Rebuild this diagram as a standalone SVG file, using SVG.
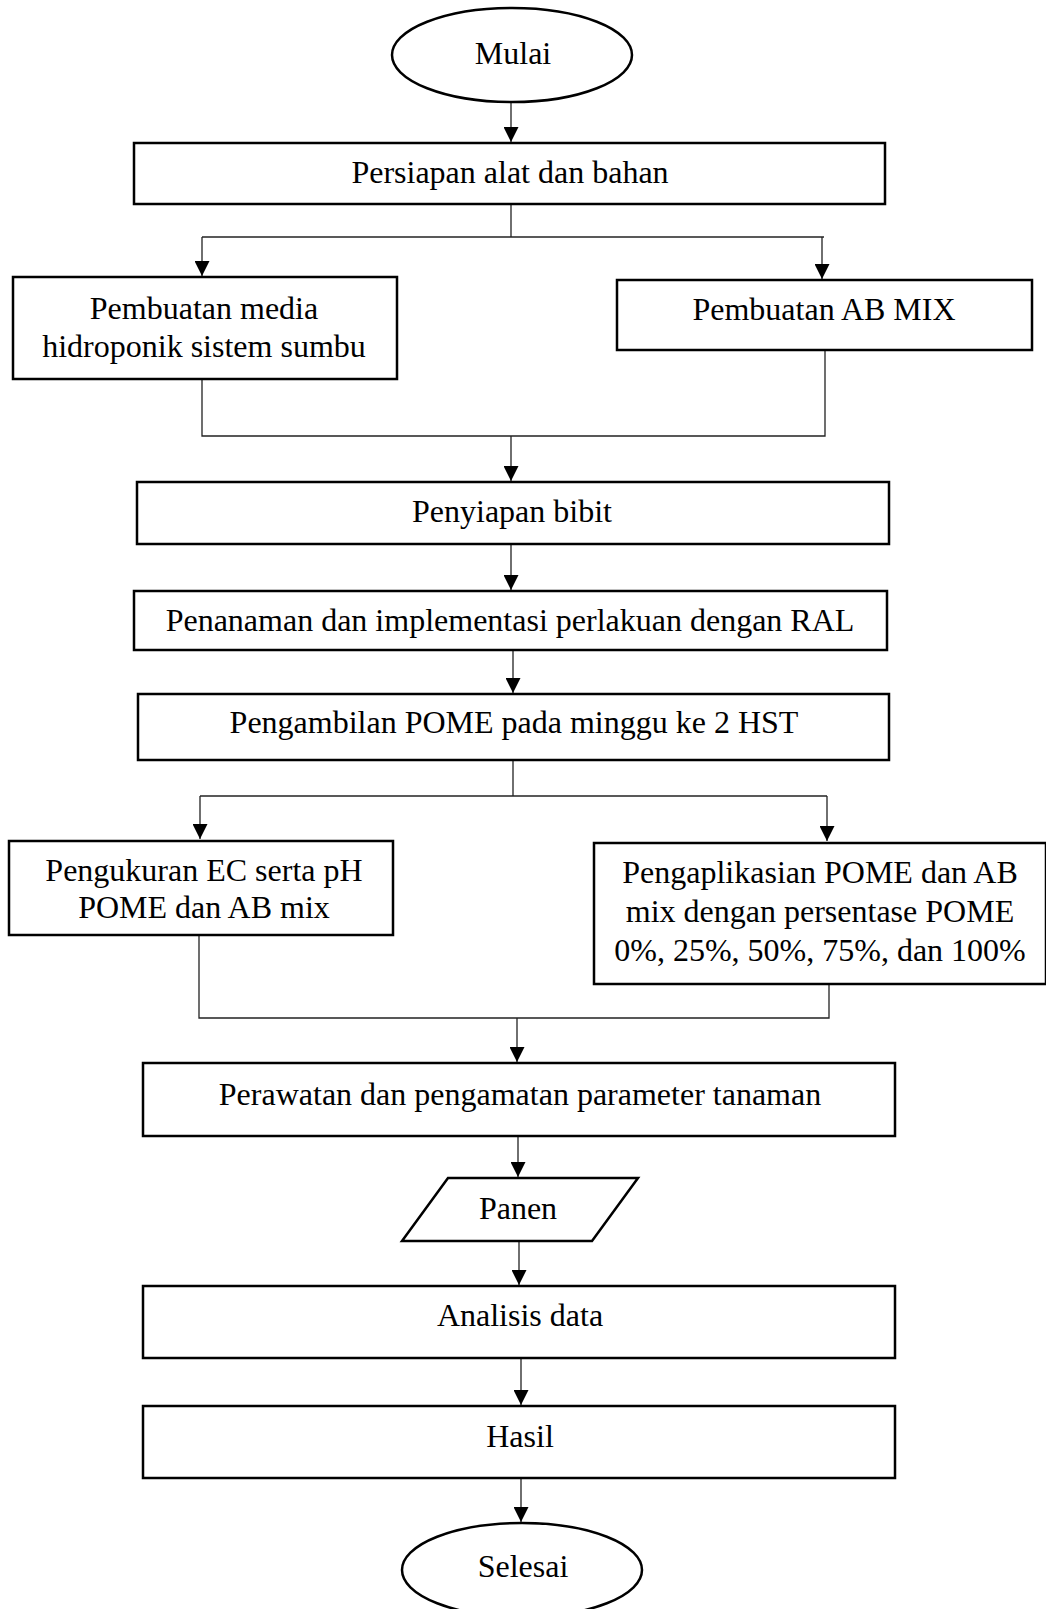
<svg xmlns="http://www.w3.org/2000/svg" width="1046" height="1609" viewBox="0 0 1046 1609">
<style>
.n{fill:#fff;stroke:#000;stroke-width:2.5}
.t{font-family:"Liberation Serif","Times New Roman",serif;font-size:32px;fill:#000;text-anchor:middle}
.c{fill:none;stroke:#222;stroke-width:1.3}
.a{marker-end:url(#ah)}
</style>
<defs>
<marker id="ah" viewBox="0 0 10 10" refX="10" refY="5" markerUnits="userSpaceOnUse" markerWidth="15" markerHeight="15" orient="auto">
<path d="M0,0 L10,5 L0,10 z" fill="#000"/>
</marker>
</defs>
<rect width="1046" height="1609" fill="#fff"/>
<g id="connectors">
<line class="c a" x1="511" y1="102" x2="511" y2="142"/>
<polyline class="c" points="511,204 511,237"/>
<line class="c" x1="202" y1="237" x2="824" y2="237"/>
<line class="c a" x1="202" y1="237" x2="202" y2="276"/>
<line class="c a" x1="822" y1="237" x2="822" y2="279"/>
<polyline class="c" points="202,379 202,436 825,436 825,350"/>
<line class="c a" x1="511" y1="436" x2="511" y2="481"/>
<line class="c a" x1="511" y1="544" x2="511" y2="590"/>
<line class="c a" x1="513" y1="650" x2="513" y2="693"/>
<line class="c" x1="513" y1="760" x2="513" y2="796"/>
<line class="c" x1="200" y1="796" x2="827" y2="796"/>
<line class="c a" x1="200" y1="796" x2="200" y2="839"/>
<line class="c a" x1="827" y1="796" x2="827" y2="841"/>
<polyline class="c" points="199,935 199,1018 829,1018 829,984"/>
<line class="c a" x1="517" y1="1018" x2="517" y2="1062"/>
<line class="c a" x1="518" y1="1136" x2="518" y2="1177"/>
<line class="c a" x1="519" y1="1241" x2="519" y2="1285"/>
<line class="c a" x1="521" y1="1358" x2="521" y2="1405"/>
<line class="c a" x1="521" y1="1478" x2="521" y2="1522"/>
</g>
<g id="mulai">
<ellipse class="n" cx="512" cy="55" rx="120" ry="47"/>
<text class="t" x="513" y="64">Mulai</text>
</g>
<g id="persiapan">
<rect class="n" x="134" y="143" width="751" height="61"/>
<text class="t" x="510" y="183">Persiapan alat dan bahan</text>
</g>
<g id="media">
<rect class="n" x="13" y="277" width="384" height="102"/>
<text class="t" x="204" y="319">Pembuatan media</text>
<text class="t" x="204" y="357">hidroponik sistem sumbu</text>
</g>
<g id="abmix">
<rect class="n" x="617" y="280" width="415" height="70"/>
<text class="t" x="824" y="320">Pembuatan AB MIX</text>
</g>
<g id="bibit">
<rect class="n" x="137" y="482" width="752" height="62"/>
<text class="t" x="512" y="522">Penyiapan bibit</text>
</g>
<g id="penanaman">
<rect class="n" x="134" y="591" width="753" height="59"/>
<text class="t" x="510" y="631">Penanaman dan implementasi perlakuan dengan RAL</text>
</g>
<g id="pengambilan">
<rect class="n" x="138" y="694" width="751" height="66"/>
<text class="t" x="514" y="733">Pengambilan POME pada minggu ke 2 HST</text>
</g>
<g id="pengukuran">
<rect class="n" x="9" y="841" width="384" height="94"/>
<text class="t" x="204" y="881">Pengukuran EC serta pH</text>
<text class="t" x="204" y="918">POME dan AB mix</text>
</g>
<g id="pengaplikasian">
<rect class="n" x="594" y="843" width="452" height="141"/>
<text class="t" x="820" y="883">Pengaplikasian POME dan AB</text>
<text class="t" x="820" y="922">mix dengan persentase POME</text>
<text class="t" x="820" y="961">0%, 25%, 50%, 75%, dan 100%</text>
</g>
<g id="perawatan">
<rect class="n" x="143" y="1063" width="752" height="73"/>
<text class="t" x="520" y="1105">Perawatan dan pengamatan parameter tanaman</text>
</g>
<g id="panen">
<polygon class="n" points="448,1178 638,1178 592,1241 402,1241"/>
<text class="t" x="518" y="1219">Panen</text>
</g>
<g id="analisis">
<rect class="n" x="143" y="1286" width="752" height="72"/>
<text class="t" x="520" y="1326">Analisis data</text>
</g>
<g id="hasil">
<rect class="n" x="143" y="1406" width="752" height="72"/>
<text class="t" x="520" y="1447">Hasil</text>
</g>
<g id="selesai">
<ellipse class="n" cx="522" cy="1570" rx="120" ry="47"/>
<text class="t" x="523" y="1577">Selesai</text>
</g>
</svg>
